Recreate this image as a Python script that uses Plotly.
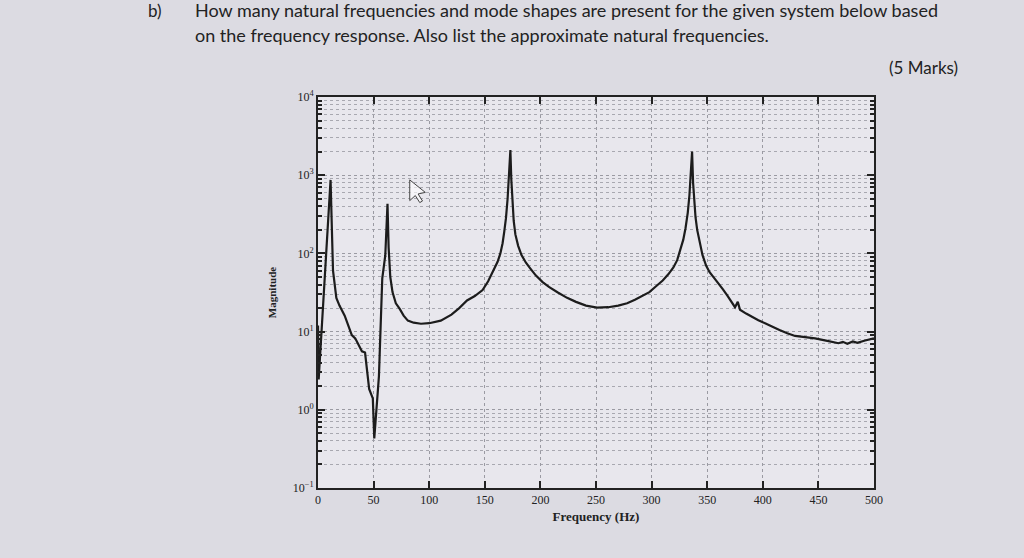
import plotly.graph_objects as go

# Frequency response (Hz, magnitude)
freq_hz = [0, 0.6, 11.3, 12.0, 13.5, 16.5, 19.3, 24, 30.4, 33.5, 39.5, 42.3, 46, 49.3, 50.6, 54.8, 57.8, 60.5,
           62.5, 63.5, 65, 67, 70, 73.5, 77, 80.8, 86, 92.6, 100, 110.4, 120, 127, 134, 141, 148, 153, 158, 161.5,
           164, 166, 167.5, 169, 170.5, 171.8, 173, 173.8, 174.8, 176, 177.5, 180, 183, 187, 191, 196, 202, 208,
           215.7, 224, 232, 241, 251, 261, 270, 278, 285, 292, 298, 304, 310, 315, 319.6, 323, 326, 328.5, 330.5,
           332.5, 334, 335.3, 336.4, 337.3, 338.3, 339.5, 341, 343, 345.8, 349, 352, 356, 359.4, 364, 368, 372,
           375, 377.5, 379.5, 385, 390, 396, 402, 408, 415, 422, 429, 438, 447, 458, 464, 468, 472, 476, 481,
           485, 492, 499, 500]
magnitude = [12, 2.45, 870, 260, 60, 27, 21.5, 16, 9, 8.2, 5.6, 5.4, 1.85, 1.4, 0.43, 2.7, 48, 94,
             430, 120, 50, 32, 23, 19.5, 16, 13.8, 13, 12.6, 12.8, 13.8, 16.5, 20, 25, 28.5, 34, 44, 60, 78,
             100, 135, 190, 280, 500, 1000, 2100, 900, 450, 260, 175, 125, 95, 76, 64, 52, 43, 37,
             31.6, 27, 24, 21.5, 20.3, 20.5, 21.5, 23, 25.5, 28.5, 32, 38, 45, 54, 66, 82, 110, 150, 210,
             330, 550, 1000, 2000, 800, 450, 290, 200, 140, 95, 70, 58, 49, 43, 35, 29, 24,
             20.5, 24, 19, 17, 15.5, 14, 12.8, 11.6, 10.5, 9.5, 8.8, 8.5, 8.2, 7.6, 7.3, 7.1, 7.4, 7.0, 7.5,
             7.2, 7.7, 8.1, 8.2]

x_ticks = [0, 50, 100, 150, 200, 250, 300, 350, 400, 450, 500]
y_tickvals = [0.1, 1, 10, 100, 1000, 10000]
y_ticktext = ["10<sup>\u22121</sup>", "10<sup>0</sup>", "10<sup>1</sup>", "10<sup>2</sup>", "10<sup>3</sup>", "10<sup>4</sup>"]

question_label = "b)"
question_line1 = "How many natural frequencies and mode shapes are present for the given system below based"
question_line2 = "on the frequency response. Also list the approximate natural frequencies."
marks_text = "(5 Marks)"

serif = "Liberation Serif"
sans = "Lato"

fig = go.Figure()
fig.add_trace(go.Scatter(x=freq_hz, y=magnitude, mode="lines",
                         line=dict(color="#1c1c1c", width=2.2, shape="linear"), showlegend=False, hoverinfo="skip"))

fig.update_layout(
    width=1024, height=558,
    margin=dict(l=318, r=150, t=97, b=70),
    paper_bgcolor="#dcdbe2",
    plot_bgcolor="#e8e7ed",
    font=dict(family=serif, color="#222"),
    xaxis=dict(range=[0, 500], tickvals=x_ticks, ticks="inside", ticklen=7, tickcolor="#222", tickwidth=1.5,
               showline=True, linecolor="#222", linewidth=1.8, mirror="ticks",
               showgrid=True, gridcolor="#9a9aa2", griddash="dot", gridwidth=1,
               tickfont=dict(family=serif, size=12, color="#222"),
               title=dict(text="<b>Frequency (Hz)</b>", font=dict(family=serif, size=13, color="#222"), standoff=6),
               zeroline=False),
    yaxis=dict(type="log", range=[-1, 4], tickvals=y_tickvals, ticktext=y_ticktext,
               ticks="inside", ticklen=7, tickcolor="#222", tickwidth=1.5,
               showline=True, linecolor="#222", linewidth=1.8, mirror="ticks",
               showgrid=True, gridcolor="#9a9aa2", griddash="dot", gridwidth=1,
               minor=dict(dtick="D1", ticks="inside", ticklen=4, tickcolor="#222",
                          showgrid=True, gridcolor="#a8a8b0", griddash="dot", gridwidth=1),
               tickfont=dict(family=serif, size=12, color="#222"),
               title=dict(text="<b>Magnitude</b>", font=dict(family=serif, size=11, color="#222"), standoff=14),
               zeroline=False),
)

# question text above the chart (paper coords: x = (px-318)/556, y = (488-py)/391)
fig.add_annotation(text=question_label, xref="paper", yref="paper", x=-0.31, y=1.222, xanchor="left",
                   yanchor="middle", showarrow=False, font=dict(family=sans, size=17, color="#222"))
fig.add_annotation(text=question_line1, xref="paper", yref="paper", x=-0.225, y=1.222, xanchor="left",
                   yanchor="middle", showarrow=False, font=dict(family=sans, size=18, color="#222"))
fig.add_annotation(text=question_line2, xref="paper", yref="paper", x=-0.225, y=1.158, xanchor="left",
                   yanchor="middle", showarrow=False, font=dict(family=sans, size=18, color="#222"))
fig.add_annotation(text=marks_text, xref="paper", yref="paper", x=1.154, y=1.076, xanchor="right",
                   yanchor="middle", showarrow=False, font=dict(family=sans, size=17, color="#222"))

# mouse cursor visible in the photo
fig.add_shape(type="path", xref="paper", yref="paper",
              path="M 0.165 0.788 L 0.165 0.735 L 0.175 0.748 L 0.183 0.730 L 0.188 0.734 L 0.180 0.752 L 0.193 0.756 Z",
              line=dict(color="#444", width=1), fillcolor="rgba(255,255,255,0.6)")

fig.write_html("out.html")
